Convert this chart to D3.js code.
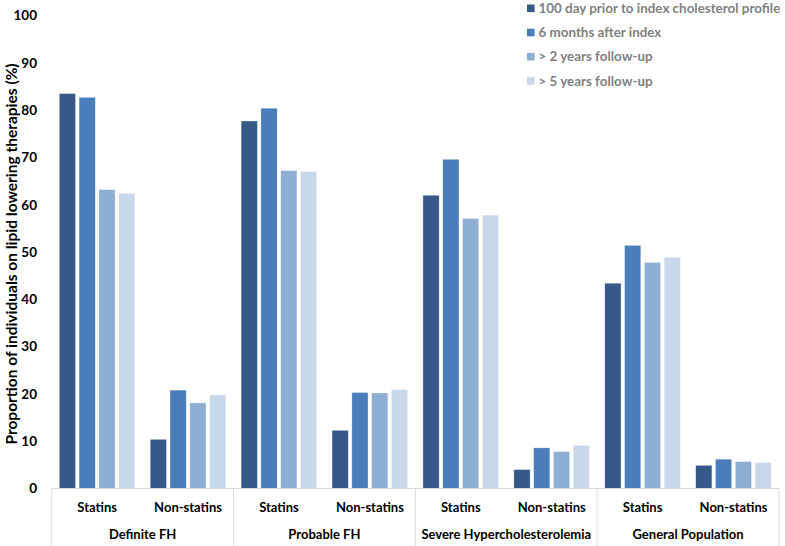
<!DOCTYPE html>
<html>
<head>
<meta charset="utf-8">
<script src="https://cdn.jsdelivr.net/npm/d3@7"></script>
<style>
  body { margin: 0; background: #fff; }
  svg text { font-family: Lato, "Open Sans", sans-serif; font-weight: bold; }
</style>
</head>
<body>
<script>
var groups = ["Definite FH", "Probable FH", "Severe Hypercholesterolemia", "General Population"]
var therapies = ["Statins", "Non-statins"]
var series = ["100 day prior to index cholesterol profile", "6 months after index", "> 2 years follow-up", "> 5 years follow-up"]
var colors = ["#36598a", "#4a7ebb", "#8eaed4", "#c9d7ea"]
var yTicks = [0, 10, 20, 30, 40, 50, 60, 70, 80, 90, 100]

// one row per series, 8 values: group x therapy
var prior100 = [83.5, 10.4, 77.7, 12.3, 62.0, 4.0, 43.4, 4.9]
var months6 = [82.7, 20.8, 80.4, 20.3, 69.6, 8.6, 51.4, 6.2]
var years2 = [63.2, 18.1, 67.2, 20.2, 57.1, 7.8, 47.8, 5.7]
var years5 = [62.4, 19.8, 67.0, 20.9, 57.8, 9.1, 48.9, 5.5]
var values = [prior100, months6, years2, years5]

;(function() {
  var width = 785, height = 546
  var svg = d3.select("body").append("svg")
    .attr("width", width).attr("height", height)

  var cats = []
  groups.forEach(function(g) {
    therapies.forEach(function(t) { cats.push(g + "|" + t) })
  })

  var x = d3.scaleBand().domain(cats).range([51.7, 779])
  var xg = d3.scaleBand().domain(groups).range([51.7, 779])
  var xs = d3.scaleBand().domain(series).range([7.6, 83.2]).paddingInner(0.18)
  var y = d3.scaleLinear().domain([0, 100]).range([488.5, 15.5])

  // y axis labels
  var yAxis = d3.axisLeft(y).tickValues(yTicks).tickSize(0).tickPadding(0)
  svg.append("g")
    .attr("transform", "translate(37,0)")
    .call(yAxis)
    .call(function(g) { g.select(".domain").remove() })
    .selectAll("text")
    .attr("fill", "#000")
    .style("font-size", "13.5px")

  svg.append("text")
    .attr("transform", "translate(12," + (y(50) + 2) + ") rotate(-90)")
    .attr("text-anchor", "middle")
    .attr("dy", "0.35em")
    .style("font-size", "15.5px")
    .text("Proportion of individuals on lipid lowering therapies (%)")

  // bars
  var rows = []
  values.forEach(function(vals, si) {
    vals.forEach(function(v, ci) {
      rows.push({ s: series[si], si: si, c: cats[ci], v: v })
    })
  })

  svg.append("g").selectAll("rect")
    .data(rows)
    .enter().append("rect")
    .attr("x", function(d) { return x(d.c) + xs(d.s) })
    .attr("y", function(d) { return y(d.v) })
    .attr("width", xs.bandwidth())
    .attr("height", function(d) { return y(0) - y(d.v) })
    .attr("fill", function(d) { return colors[d.si] })
    .attr("stroke", "rgba(255,255,255,0.55)")
    .attr("stroke-width", 0.6)

  // x axis line + group separators
  var axis = svg.append("g").attr("stroke", "#d9d9d9").attr("stroke-width", 1)
  axis.append("line")
    .attr("x1", 51.7).attr("x2", 779)
    .attr("y1", y(0)).attr("y2", y(0))
  axis.selectAll("line.sep")
    .data(groups.concat(["end"]))
    .enter().append("line")
    .attr("class", "sep")
    .attr("x1", function(d, i) { return 51.7 + i * xg.bandwidth() })
    .attr("x2", function(d, i) { return 51.7 + i * xg.bandwidth() })
    .attr("y1", y(0)).attr("y2", 546)

  svg.append("g").selectAll("text")
    .data(cats)
    .enter().append("text")
    .attr("x", function(d) { return x(d) + x.bandwidth() / 2 })
    .attr("y", 507)
    .attr("dy", "0.35em")
    .attr("text-anchor", "middle")
    .style("font-size", "13px")
    .text(function(d) { return d.split("|")[1] })

  svg.append("g").selectAll("text")
    .data(groups)
    .enter().append("text")
    .attr("x", function(d) { return xg(d) + xg.bandwidth() / 2 })
    .attr("y", 534)
    .attr("dy", "0.35em")
    .attr("text-anchor", "middle")
    .style("font-size", "13px")
    .text(function(d) { return d })

  // legend
  var legend = svg.append("g").selectAll("g")
    .data(series)
    .enter().append("g")
    .attr("transform", function(d, i) { return "translate(527," + (8.3 + i * 24.2) + ")" })
  legend.append("rect")
    .attr("x", 0).attr("y", -3.8)
    .attr("width", 7.6).attr("height", 7.6)
    .attr("fill", function(d, i) { return colors[i] })
  legend.append("text")
    .attr("x", 11.5)
    .attr("dy", "0.35em")
    .attr("fill", "#7f7f7f")
    .style("font-size", "13.4px")
    .text(function(d) { return d })
})()
</script>
</body>
</html>
